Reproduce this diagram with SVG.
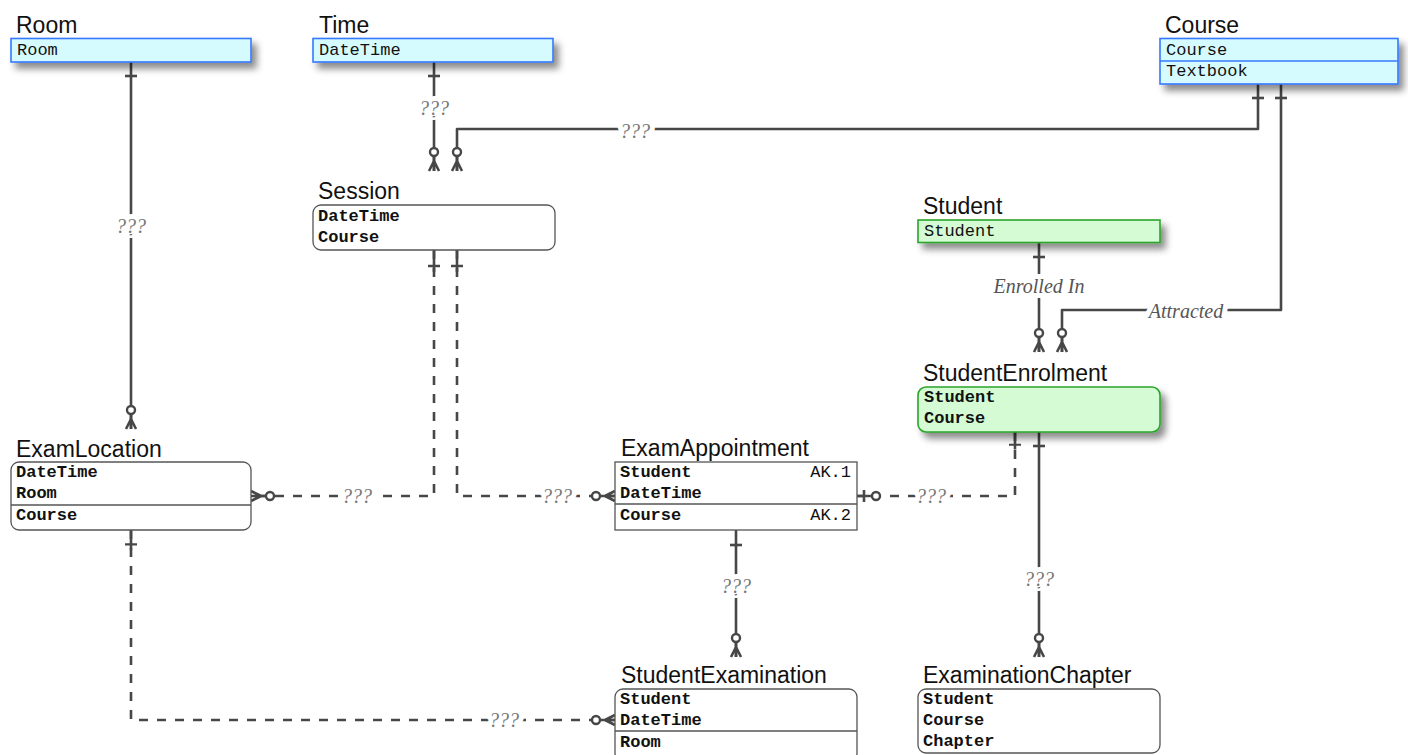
<svg xmlns="http://www.w3.org/2000/svg" width="1408" height="755" viewBox="0 0 1408 755">
<style>
.title{font-family:"Liberation Sans",Arial,sans-serif;font-size:23px;fill:#111}
.f{font-family:"Liberation Mono","Courier New",monospace;font-size:17px;fill:#111}
.b{font-weight:bold}
.ref{fill:#d6fbff;stroke:#3479ff;stroke-width:1.6}
.grn{fill:#d4fbd4;stroke:#2aa52a;stroke-width:1.6}
.ent{fill:#fff;stroke:#555;stroke-width:1.3}
.sep{stroke:#555;stroke-width:1.3}
.sepb{stroke:#3479ff;stroke-width:1.6}
.c{fill:none;stroke:#474747;stroke-width:2.6;stroke-linejoin:round}
.d{stroke-dasharray:9 9}
.sym{fill:none;stroke:#474747;stroke-width:2.6}
.lbl{font-family:"Liberation Serif","Times New Roman",serif;font-style:italic;font-size:20px;fill:#777;text-anchor:middle;stroke:#fff;stroke-width:10;paint-order:stroke;stroke-linejoin:round}
.lbl2{fill:#555}
</style>
<defs>
<filter id="sh" x="-10%" y="-30%" width="130%" height="200%">
<feDropShadow dx="5" dy="6" stdDeviation="3.5" flood-color="#000" flood-opacity="0.45"/>
</filter>
<g id="many0">
<path class="sym" d="M0,-14 V0 M0,-10 L-5,0 M0,-10 L5,0"/>
<circle cx="0" cy="-19" r="4" fill="#fff" stroke="#474747" stroke-width="2.4"/>
</g>
<g id="one">
<path class="sym" d="M-6,0 H6"/>
</g>
<g id="stub">
<path class="sym" d="M0,0 V22 M-6,16 H6"/>
</g>
<g id="one0">
<path class="sym" d="M0,-15 V0 M-6,-7 H6"/>
<circle cx="0" cy="-19" r="4" fill="#fff" stroke="#474747" stroke-width="2.4"/>
</g>
</defs>
<rect width="1408" height="755" fill="#fff"/>

<g id="connectors">
<!-- Room - ExamLocation -->
<path class="c" d="M131,62 V429"/>
<use href="#one" x="131" y="76"/>
<use href="#many0" x="131" y="429"/>
<text class="lbl" x="131" y="233">???</text>
<!-- Time - Session -->
<path class="c" d="M434,62 V171"/>
<use href="#one" x="434" y="76"/>
<use href="#many0" x="434" y="171"/>
<text class="lbl" x="434" y="115">???</text>
<!-- Course - Session -->
<path class="c" d="M1258,84 V129 H457 V171"/>
<use href="#one" x="1258" y="98"/>
<use href="#many0" x="457" y="171"/>
<text class="lbl" x="635" y="138">???</text>
<!-- Course - StudentEnrolment (Attracted) -->
<path class="c" d="M1281,84 V310 H1062 V352"/>
<use href="#one" x="1281" y="98"/>
<use href="#many0" x="1062" y="352"/>
<text class="lbl lbl2" x="1186" y="318">Attracted</text>
<!-- Student - StudentEnrolment -->
<path class="c" d="M1039,243 V352"/>
<use href="#one" x="1039" y="257"/>
<use href="#many0" x="1039" y="352"/>
<text class="lbl lbl2" x="1039" y="293">Enrolled In</text>
<!-- Session - ExamLocation -->
<path class="c d" d="M434,250 V496 H251"/>
<use href="#stub" x="434" y="250"/>
<use href="#many0" transform="translate(251,496) rotate(90)"/>
<text class="lbl" x="357" y="503">???</text>
<!-- Session - ExamAppointment -->
<path class="c d" d="M457,250 V496 H615"/>
<use href="#stub" x="457" y="250"/>
<use href="#many0" transform="translate(615,496) rotate(-90)"/>
<text class="lbl" x="557" y="503">???</text>
<!-- StudentEnrolment - ExamAppointment -->
<path class="c d" d="M1015,432 V496 H857"/>
<use href="#stub" transform="translate(1015,432) scale(1,0.8)"/>
<use href="#one0" transform="translate(857,496) rotate(90)"/>
<text class="lbl" x="931" y="503">???</text>
<!-- StudentEnrolment - ExaminationChapter -->
<path class="c" d="M1039,432 V657"/>
<use href="#one" x="1039" y="446"/>
<use href="#many0" x="1039" y="657"/>
<text class="lbl" x="1039" y="586">???</text>
<!-- ExamAppointment - StudentExamination -->
<path class="c" d="M736,530 V657"/>
<use href="#one" x="736" y="545"/>
<use href="#many0" x="736" y="657"/>
<text class="lbl" x="736" y="593">???</text>
<!-- ExamLocation - StudentExamination -->
<path class="c d" d="M131,530 V720 H615"/>
<use href="#stub" transform="translate(131,530) scale(1,0.9)"/>
<use href="#many0" transform="translate(615,720) rotate(-90)"/>
<text class="lbl" x="504" y="727">???</text>
</g>

<g id="Room">
<text class="title" x="16" y="33">Room</text>
<rect class="ref" x="11" y="38.5" width="240" height="23.5" filter="url(#sh)"/>
<text class="f" x="17" y="55">Room</text>
</g>

<g id="Time">
<text class="title" x="319" y="33">Time</text>
<rect class="ref" x="313" y="38.5" width="240" height="23.5" filter="url(#sh)"/>
<text class="f" x="319" y="55">DateTime</text>
</g>

<g id="Course">
<text class="title" x="1165" y="33">Course</text>
<rect class="ref" x="1160" y="38.5" width="238" height="45.5" filter="url(#sh)"/>
<line class="sepb" x1="1160" y1="61" x2="1398" y2="61"/>
<text class="f" x="1166" y="55">Course</text>
<text class="f" x="1166" y="76">Textbook</text>
</g>

<g id="Session">
<text class="title" x="318" y="199">Session</text>
<rect class="ent" x="313" y="205" width="242" height="45" rx="8"/>
<text class="f b" x="318" y="221">DateTime</text>
<text class="f b" x="318" y="242">Course</text>
</g>

<g id="Student">
<text class="title" x="923" y="214">Student</text>
<rect class="grn" x="918" y="220" width="242" height="22.5" filter="url(#sh)"/>
<text class="f" x="924" y="236">Student</text>
</g>

<g id="StudentEnrolment">
<text class="title" x="923" y="381">StudentEnrolment</text>
<rect class="grn" x="918" y="387" width="242" height="45" rx="8" filter="url(#sh)"/>
<text class="f b" x="924" y="402">Student</text>
<text class="f b" x="924" y="423">Course</text>
</g>

<g id="ExamLocation">
<text class="title" x="16" y="457">ExamLocation</text>
<rect class="ent" x="11" y="462" width="240" height="68" rx="8"/>
<line class="sep" x1="11" y1="505" x2="251" y2="505"/>
<text class="f b" x="16" y="477">DateTime</text>
<text class="f b" x="16" y="498">Room</text>
<text class="f b" x="16" y="520">Course</text>
</g>

<g id="ExamAppointment">
<text class="title" x="621" y="456">ExamAppointment</text>
<rect class="ent" x="615" y="462" width="242" height="68"/>
<line class="sep" x1="615" y1="504" x2="857" y2="504"/>
<text class="f b" x="620" y="477">Student</text>
<text class="f" x="851" y="477" text-anchor="end">AK.1</text>
<text class="f b" x="620" y="498">DateTime</text>
<text class="f b" x="620" y="520">Course</text>
<text class="f" x="851" y="520" text-anchor="end">AK.2</text>
</g>

<g id="StudentExamination">
<text class="title" x="621" y="683">StudentExamination</text>
<rect class="ent" x="615" y="689" width="242" height="72" rx="8"/>
<line class="sep" x1="615" y1="731" x2="857" y2="731"/>
<text class="f b" x="620" y="704">Student</text>
<text class="f b" x="620" y="725">DateTime</text>
<text class="f b" x="620" y="747">Room</text>
</g>

<g id="ExaminationChapter">
<text class="title" x="923" y="683">ExaminationChapter</text>
<rect class="ent" x="918" y="689" width="242" height="64" rx="8"/>
<text class="f b" x="923" y="704">Student</text>
<text class="f b" x="923" y="725">Course</text>
<text class="f b" x="923" y="746">Chapter</text>
</g>
</svg>
